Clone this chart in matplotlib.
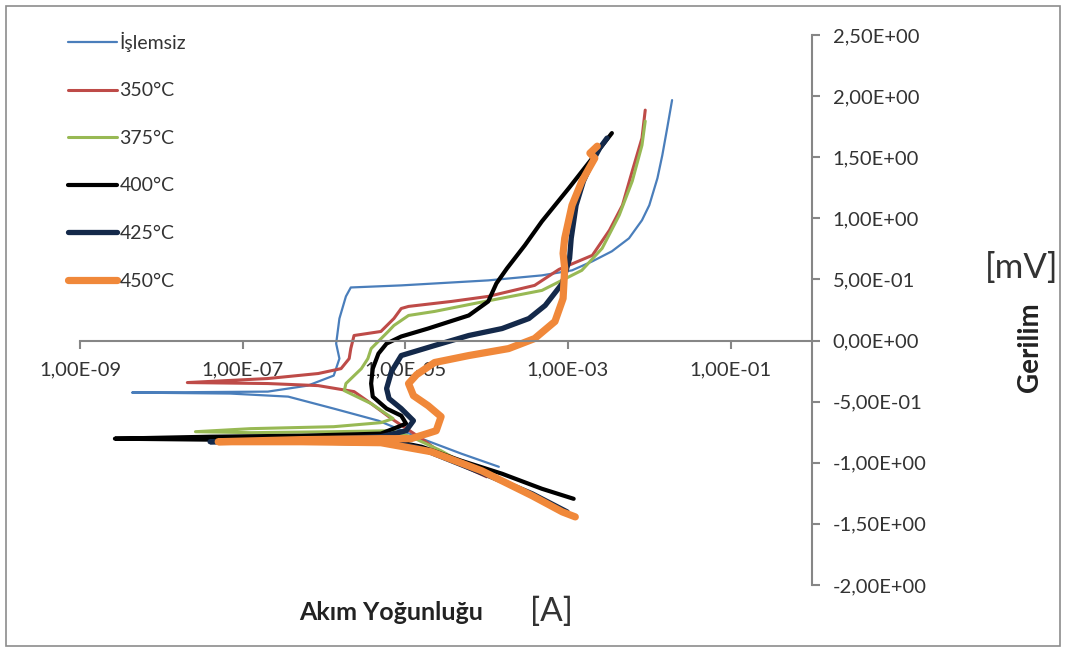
import matplotlib
matplotlib.use("Agg")
import matplotlib.pyplot as plt
import numpy as np
from matplotlib.patches import Rectangle
from matplotlib.ticker import FixedLocator, FixedFormatter

plt.rcParams["font.family"] = ["Lato", "DejaVu Sans"]

# log10 of current density [A] and potential
islemsiz_logi = [-3.85, -4.31, -4.80, -5.33, -5.88, -6.44, -7.15, -8.36, -7.52, -6.69,
                 -6.20, -5.88, -5.81, -5.85, -5.81, -5.73, -5.67, -5.05, -3.98, -3.32,
                 -2.95, -2.70, -2.46, -2.25, -2.09, -2.00, -1.90, -1.84, -1.78, -1.72]
islemsiz_v = [-1.033, -0.926, -0.803, -0.656, -0.557, -0.459, -0.434, -0.426, -0.422, -0.418,
              -0.369, -0.287, -0.148, -0.025, 0.180, 0.361, 0.434, 0.451, 0.492, 0.533,
              0.574, 0.648, 0.730, 0.836, 0.984, 1.107, 1.328, 1.516, 1.738, 1.967]

t350_logi = [-4.00, -4.43, -4.80, -5.17, -5.42, -5.63, -6.07, -6.69, -7.68, -6.69,
             -6.07, -5.79, -5.69, -5.67, -5.63, -5.30, -5.14, -5.05, -4.96, -4.43,
             -3.98, -3.41, -3.11, -2.70, -2.49, -2.33, -2.21, -2.09, -2.05]
t350_v = [-1.115, -0.984, -0.803, -0.639, -0.516, -0.418, -0.369, -0.352, -0.344, -0.311,
          -0.270, -0.230, -0.148, -0.066, 0.041, 0.074, 0.180, 0.262, 0.279, 0.320,
          0.361, 0.451, 0.582, 0.697, 0.902, 1.107, 1.385, 1.656, 1.885]

t375_logi = [-4.12, -4.56, -4.93, -5.17, -5.88, -6.90, -7.58, -6.90, -5.88, -5.30,
             -5.15, -5.42, -5.75, -5.73, -5.54, -5.46, -5.42, -5.21, -5.14, -4.96,
             -4.64, -4.15, -3.32, -2.83, -2.58, -2.37, -2.21, -2.09, -2.05]
t375_v = [-1.066, -0.902, -0.787, -0.738, -0.746, -0.754, -0.746, -0.721, -0.705, -0.672,
          -0.639, -0.516, -0.410, -0.352, -0.230, -0.148, -0.066, 0.074, 0.123, 0.205,
          0.238, 0.303, 0.410, 0.574, 0.754, 1.025, 1.303, 1.598, 1.795]

t400_logi = [-2.93, -3.32, -3.81, -4.31, -4.80, -5.17, -6.28, -7.40, -8.57, -7.40,
             -6.28, -5.30, -4.99, -5.05, -5.23, -5.40, -5.42, -5.40, -5.33, -5.23,
             -5.05, -4.72, -4.22, -3.98, -3.88, -3.75, -3.53, -3.32, -2.99, -2.70, -2.46]
t400_v = [-1.295, -1.213, -1.090, -0.984, -0.869, -0.820, -0.811, -0.811, -0.803, -0.787,
          -0.779, -0.762, -0.680, -0.615, -0.557, -0.459, -0.352, -0.230, -0.107, -0.025,
          0.033, 0.098, 0.205, 0.320, 0.467, 0.590, 0.779, 0.975, 1.246, 1.492, 1.697]

t425_logi = [-3.01, -3.44, -3.94, -4.43, -4.80, -5.05, -6.28, -7.40, -6.28, -5.30,
             -4.99, -4.90, -5.05, -5.20, -5.23, -5.17, -5.05, -4.64, -4.22, -3.81,
             -3.48, -3.28, -3.07, -2.98, -2.96, -2.90, -2.81, -2.71, -2.61, -2.52]
t425_v = [-1.402, -1.254, -1.115, -0.984, -0.885, -0.844, -0.828, -0.828, -0.811, -0.787,
          -0.738, -0.656, -0.557, -0.475, -0.393, -0.254, -0.123, -0.041, 0.041, 0.098,
          0.180, 0.287, 0.467, 0.672, 0.836, 1.107, 1.303, 1.451, 1.574, 1.656]

t450_logi = [-2.91, -3.07, -3.44, -4.06, -4.68, -5.30, -6.28, -7.30, -6.28, -5.30,
             -4.93, -4.62, -4.56, -4.72, -4.90, -4.96, -4.86, -4.64, -4.22, -3.73,
             -3.41, -3.16, -3.06, -3.04, -3.06, -3.04, -2.95, -2.83, -2.74, -2.67,
             -2.73, -2.64]
t450_v = [-1.443, -1.402, -1.270, -1.066, -0.910, -0.836, -0.828, -0.828, -0.811, -0.803,
          -0.803, -0.738, -0.623, -0.533, -0.451, -0.352, -0.279, -0.180, -0.123, -0.066,
          0.016, 0.156, 0.344, 0.590, 0.713, 0.836, 1.107, 1.303, 1.410, 1.492,
          1.533, 1.590]

series_names = ["İşlemsiz", "350°C", "375°C", "400°C", "425°C", "450°C"]

x_ticks = [1e-9, 1e-7, 1e-5, 1e-3, 1e-1]
x_tick_labels = ["1,00E-09", "1,00E-07", "1,00E-05", "1,00E-03", "1,00E-01"]
y_ticks = [2.5, 2.0, 1.5, 1.0, 0.5, 0.0, -0.5, -1.0, -1.5, -2.0]
y_tick_labels = ["2,50E+00", "2,00E+00", "1,50E+00", "1,00E+00", "5,00E-01",
                 "0,00E+00", "-5,00E-01", "-1,00E+00", "-1,50E+00", "-2,00E+00"]

fig = plt.figure(figsize=(10.66, 6.52), dpi=100)
fig.patch.set_facecolor("white")
ax = fig.add_axes([0.0750, 0.1028, 0.6867, 0.8436])

curves = [
    (islemsiz_logi, islemsiz_v, "#4a7ebb", 1.6),
    (t350_logi, t350_v, "#be4b48", 2.2),
    (t375_logi, t375_v, "#98b954", 2.2),
    (t400_logi, t400_v, "#000000", 3.0),
    (t425_logi, t425_v, "#14294a", 3.8),
    (t450_logi, t450_v, "#f0883a", 5.2),
]

for (logi, v, color, lw), name in zip(curves, series_names):
    ax.plot(10 ** np.array(logi), v, color=color, linewidth=lw, label=name,
            solid_capstyle="round", solid_joinstyle="round")

ax.set_xscale("log")
ax.set_xlim(1e-9, 1e0)
ax.set_ylim(-2.0, 2.5)

ax.spines["top"].set_visible(False)
ax.spines["left"].set_visible(False)
ax.spines["bottom"].set_position(("data", 0))
for side in ["bottom", "right"]:
    ax.spines[side].set_color("#868686")
    ax.spines[side].set_linewidth(1.5)

ax.xaxis.set_major_locator(FixedLocator(x_ticks))
ax.xaxis.set_major_formatter(FixedFormatter(x_tick_labels))
ax.xaxis.set_minor_locator(FixedLocator([]))
ax.yaxis.set_major_locator(FixedLocator(y_ticks))
ax.yaxis.set_major_formatter(FixedFormatter(y_tick_labels))
ax.yaxis.tick_right()

ax.tick_params(axis="x", direction="out", length=6, width=1.5, color="#868686",
               labelsize=14.5, labelcolor="#333333", pad=9)
ax.tick_params(axis="y", direction="out", length=6, width=1.5, color="#868686",
               labelsize=14.5, labelcolor="#333333", pad=9)
ax.patch.set_alpha(0)

ax.legend(loc="upper left", bbox_to_anchor=(-0.027, 1.02), frameon=False,
          fontsize=14, labelspacing=1.57, handlelength=2.5, handletextpad=0.15,
          borderaxespad=0.0, labelcolor="#333333")

fig.text(0.281, 0.061, "Akım Yoğunluğu", fontsize=18, fontweight="bold",
         color="#222222", ha="left", va="center")
fig.text(0.497, 0.061, "[A]", fontsize=24, color="#333333", ha="left", va="center")
fig.text(0.966, 0.468, "Gerilim", fontsize=20, fontweight="bold", rotation=90,
         color="#222222", ha="center", va="center")
fig.text(0.958, 0.589, "[mV]", fontsize=25, color="#333333", ha="center", va="center")

fig.patches.append(Rectangle((0.006, 0.009), 0.988, 0.982, transform=fig.transFigure,
                             fill=False, edgecolor="#8c8c8c", linewidth=1.2))

fig.savefig("out.png", dpi=100, facecolor="white")
